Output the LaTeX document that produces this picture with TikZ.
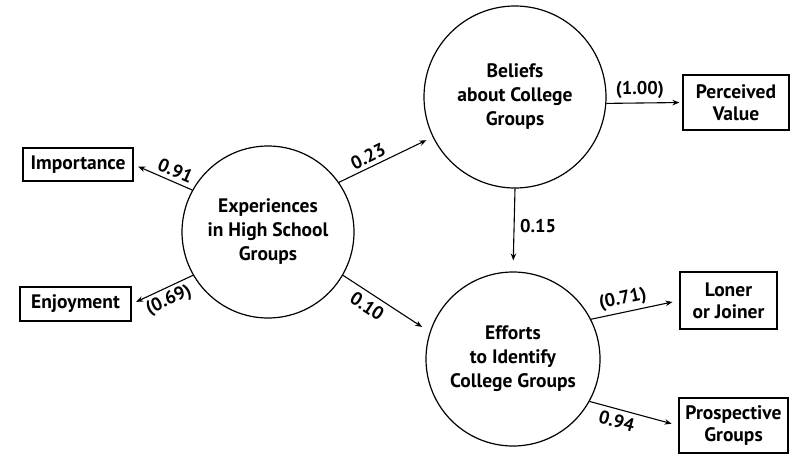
\documentclass[tikz,border=0pt]{standalone}
\usepackage{fontspec}
\setmainfont{PT Sans}
\usetikzlibrary{arrows.meta}
\tikzset{
  latent/.style={draw, circle, line width=1.2pt, inner sep=0pt, minimum size=176pt, align=center,
     font=\bfseries\fontsize{19.5}{24}\selectfont},
  obs/.style={draw, rectangle, line width=1.2pt, inner sep=0pt, align=center,
     font=\bfseries\fontsize{19.5}{22}\selectfont},
  arr/.style={line width=1.1pt, -{Stealth[length=7pt,width=5.5pt]}},
  lab/.style={font=\bfseries\fontsize{18.5}{20}\selectfont, inner sep=1.5pt}
}
\begin{document}
\begin{tikzpicture}[x=1pt,y=-1pt]
\useasboundingbox (0,0) rectangle (791,455);
% latent variables
\node[latent, minimum size=172pt] (exp) at (268,232) {Experiences\\in High School\\Groups};
\node[latent, minimum size=182pt] (bel) at (515,97) {Beliefs\\about College\\Groups};
\node[latent, minimum size=174pt] (eff) at (513,359) {Efforts\\to Identify\\College Groups};
% observed
\node[obs, minimum width=110pt, minimum height=33pt] (imp) at (78,164.5) {Importance};
\node[obs, minimum width=111pt, minimum height=34pt] (enj) at (75.5,304) {Enjoyment};
\node[obs, minimum width=106pt, minimum height=55pt] (per) at (736,102.5) {Perceived\\Value};
\node[obs, minimum width=97pt, minimum height=57pt] (lon) at (728.5,300.5) {Loner\\or Joiner};
\node[obs, minimum width=109pt, minimum height=55pt] (pro) at (733.5,425.5) {Prospective\\Groups};
% connectors
\draw[arr, shorten >=5pt] (exp.151) -- node[lab, pos=0.36, sloped, above=2pt] {0.91} (imp.east);
\draw[arr, shorten >=5pt] (exp.210) -- node[lab, pos=0.48, sloped, below=2pt] {(0.69)} (enj.east);
\draw[arr, shorten >=7pt] (exp.35) -- node[lab, pos=0.36, sloped, above=2pt] {0.23} (bel.206);
\draw[arr, shorten >=9pt] (exp.-30) -- node[lab, pos=0.36, sloped, below=4pt] {0.10} (eff.162);
\draw[arr, shorten >=11pt] (bel.south) -- node[lab, pos=0.45, right=4pt] {0.15} (eff.north);
\draw[arr, shorten >=3pt] (bel.-4) -- node[lab, pos=0.44, above=2pt] {(1.00)} (per.west);
\draw[arr, shorten >=7pt] (eff.27) -- node[lab, pos=0.39, sloped, above=2pt] {(0.71)} (lon.west);
\draw[arr, shorten >=7pt] (eff.-29) -- node[lab, pos=0.34, sloped, below=3pt] {0.94} (pro.west);
\end{tikzpicture}
\end{document}
